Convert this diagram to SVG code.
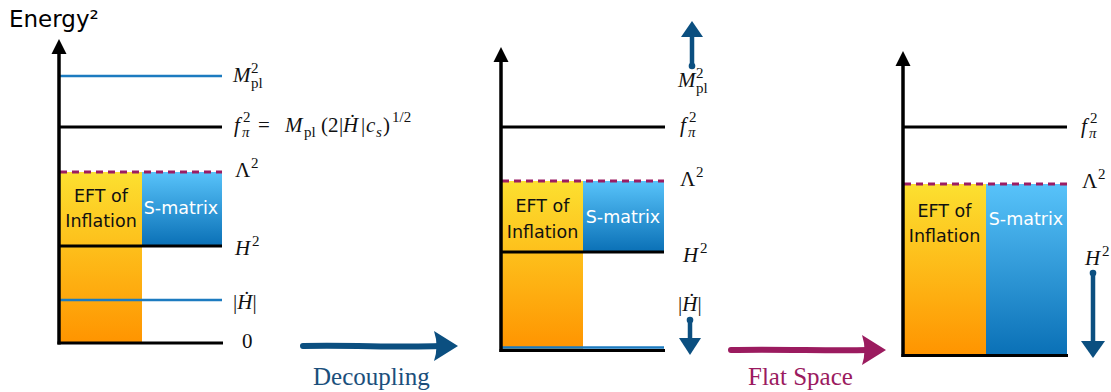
<svg xmlns="http://www.w3.org/2000/svg" width="1111" height="392" viewBox="0 0 1111 392">
<defs>
<linearGradient id="gy" x1="0" y1="0" x2="0" y2="1">
<stop offset="0" stop-color="#fce030"/><stop offset="1" stop-color="#ff9400"/>
</linearGradient>
<linearGradient id="gb" x1="0" y1="0" x2="0" y2="1">
<stop offset="0" stop-color="#58c3fa"/><stop offset="1" stop-color="#0a70b6"/>
</linearGradient>
<style>
.ax{stroke:#000;stroke-width:3.5;fill:none}
.lv{stroke:#000;stroke-width:3;fill:none}
.bl{stroke:#1c7bc0;stroke-width:2.5;fill:none}
.ds{stroke:#9b1d63;stroke-width:3;stroke-dasharray:7 5;fill:none}
.m{font-family:"Liberation Serif","Times New Roman",serif;font-size:21px;fill:#111}
.i{font-style:italic}
.s{font-size:15px}
.sans{font-family:"DejaVu Sans",sans-serif;font-size:17.5px;text-anchor:middle;fill:#111}
.w{fill:#fff}
.arr{stroke:#0b4f80;stroke-width:4.5;stroke-linecap:round;fill:none}
.ah{fill:#0b4f80}
</style>
</defs>

<text x="9" y="27" font-family="DejaVu Sans, sans-serif" font-size="23" fill="#000">Energy²</text>

<!-- Left panel -->
<g id="panel-left">
  <g id="left-eft"><rect x="60" y="172" width="82" height="171" fill="url(#gy)"/>
    <text class="sans" x="101" y="202">EFT of</text><text class="sans" x="101" y="227">Inflation</text></g>
  <g id="left-smatrix"><rect x="142" y="172" width="80" height="74" fill="url(#gb)"/>
    <text class="sans w" x="181" y="214">S-matrix</text></g>
  <line class="bl" x1="59" y1="76" x2="222" y2="76"/>
  <line class="lv" x1="59" y1="127" x2="222" y2="127"/>
  <line class="ds" x1="60" y1="172" x2="222" y2="172"/>
  <line class="lv" x1="60" y1="246" x2="222" y2="246"/>
  <line class="bl" x1="60" y1="300" x2="222" y2="300"/>
  <line class="lv" x1="57.5" y1="343" x2="223" y2="343"/>
  <line class="ax" x1="59" y1="344.5" x2="59" y2="52"/>
  <polygon points="51.5,54 59,39 66.5,54" fill="#000"/>
  <g id="left-labels">
    <text class="m i" x="233" y="82">M</text><text class="m s" x="251" y="73">2</text><text class="m s" x="251" y="88">pl</text>
    <text class="m i" x="234" y="132">f</text><text class="m s" x="243" y="122">2</text><text class="m s i" x="242" y="137">π</text>
    <text class="m" x="258" y="132" font-size="23">=</text>
    <text class="m i" x="285" y="132">M</text><text class="m s" x="304" y="137">pl</text>
    <text class="m" x="321" y="132">(</text>
    <text class="m" x="328" y="132">2</text>
    <text class="m" x="339" y="132">|</text>
    <text class="m i" x="343" y="132">Ḣ</text>
    <text class="m" x="361" y="132">|</text>
    <text class="m i" x="366" y="132">c</text>
    <text class="m s i" x="376" y="137">s</text>
    <text class="m" x="383" y="132">)</text>
    <text class="m s" x="392" y="122">1/2</text>
    <text class="m" x="235" y="177">Λ</text><text class="m s" x="251" y="168">2</text>
    <text class="m i" x="235" y="255">H</text><text class="m s" x="252" y="246">2</text>
    <text class="m" x="233" y="309">|<tspan class="i">Ḣ</tspan>|</text>
    <text class="m" x="242" y="348">0</text>
  </g>
</g>

<!-- Middle panel -->
<g id="panel-middle">
  <g id="mid-eft"><rect x="502" y="181" width="81" height="168" fill="url(#gy)"/>
    <text class="sans" x="542.5" y="212">EFT of</text><text class="sans" x="542.5" y="238">Inflation</text></g>
  <g id="mid-smatrix"><rect x="583" y="181" width="81" height="71" fill="url(#gb)"/>
    <text class="sans w" x="623" y="223">S-matrix</text></g>
  <line class="lv" x1="501" y1="127" x2="665" y2="127"/>
  <line class="ds" x1="502" y1="181" x2="664" y2="181"/>
  <line class="lv" x1="502" y1="252" x2="664" y2="252"/>
  <line class="bl" x1="502" y1="347.5" x2="664" y2="347.5"/>
  <line class="lv" x1="499.5" y1="350.5" x2="665" y2="350.5"/>
  <line class="ax" x1="501" y1="352" x2="501" y2="60"/>
  <polygon points="493.5,62 501,47 508.5,62" fill="#000"/>
  <g id="mid-labels">
    <text class="m i" x="678" y="87">M</text><text class="m s" x="696" y="78">2</text><text class="m s" x="696" y="93">pl</text>
    <text class="m i" x="680" y="132">f</text><text class="m s" x="689" y="122">2</text><text class="m s i" x="688" y="137">π</text>
    <text class="m" x="680" y="186">Λ</text><text class="m s" x="696" y="177">2</text>
    <text class="m i" x="683" y="262">H</text><text class="m s" x="700" y="253">2</text>
    <text class="m" x="678" y="311">|<tspan class="i">Ḣ</tspan>|</text>
  </g>
</g>

<!-- Right panel -->
<g id="panel-right">
  <g id="right-eft"><rect x="903" y="184" width="83" height="171" fill="url(#gy)"/>
    <text class="sans" x="944.5" y="217">EFT of</text><text class="sans" x="944.5" y="242">Inflation</text></g>
  <g id="right-smatrix"><rect x="986" y="184" width="81" height="171" fill="url(#gb)"/>
    <text class="sans w" x="1026" y="225">S-matrix</text></g>
  <line class="lv" x1="903" y1="127" x2="1067" y2="127"/>
  <line class="ds" x1="904" y1="184" x2="1067" y2="184"/>
  <line class="lv" x1="901.5" y1="355.5" x2="1068" y2="355.5"/>
  <line class="ax" x1="903" y1="357" x2="903" y2="64"/>
  <polygon points="895.5,66 903,51 910.5,66" fill="#000"/>
  <g id="right-labels">
    <text class="m i" x="1081" y="133">f</text><text class="m s" x="1090" y="123">2</text><text class="m s i" x="1089" y="138">π</text>
    <text class="m" x="1082" y="188">Λ</text><text class="m s" x="1098" y="179">2</text>
    <text class="m i" x="1085" y="265">H</text><text class="m s" x="1102" y="256">2</text>
  </g>
</g>

<!-- Connectors -->
<g id="connectors">
  <g id="decoupling">
    <path d="M303,346 C350,345 400,347.5 440,346" stroke="#0b4f80" stroke-width="6" stroke-linecap="round" fill="none"/>
    <path d="M434,331 L458,346 L434,361 Q439,346 434,331 Z" fill="#0b4f80"/>
    <text x="313" y="385" font-family="Liberation Serif, serif" font-size="25" fill="#1b4f7c">Decoupling</text>
  </g>
  <g id="flatspace">
    <path d="M731,350 C780,349 830,351 868,350" stroke="#9b1b5f" stroke-width="6" stroke-linecap="round" fill="none"/>
    <path d="M862,335 L886,350 L862,365 Q867,350 862,335 Z" fill="#9b1b5f"/>
    <text x="748" y="385" font-family="Liberation Serif, serif" font-size="25" fill="#9b1b5f">Flat Space</text>
  </g>
  <g id="mpl-up">
    <line class="arr" x1="692" y1="66" x2="692" y2="34"/>
    <circle cx="692" cy="66" r="3.3" class="ah"/>
    <path class="ah" d="M681,37 L692,21 L703,37 Z"/>
  </g>
  <g id="hdot-down">
    <line class="arr" x1="690" y1="320" x2="690" y2="341"/>
    <circle cx="690" cy="320" r="3.3" class="ah"/>
    <path class="ah" d="M679,338 L690,355 L701,338 Z"/>
  </g>
  <g id="h2-down">
    <line class="arr" x1="1093" y1="273" x2="1093" y2="344"/>
    <circle cx="1093" cy="273" r="3.3" class="ah"/>
    <path class="ah" d="M1081,341 L1093,358 L1105,341 Z"/>
  </g>
</g>
</svg>
